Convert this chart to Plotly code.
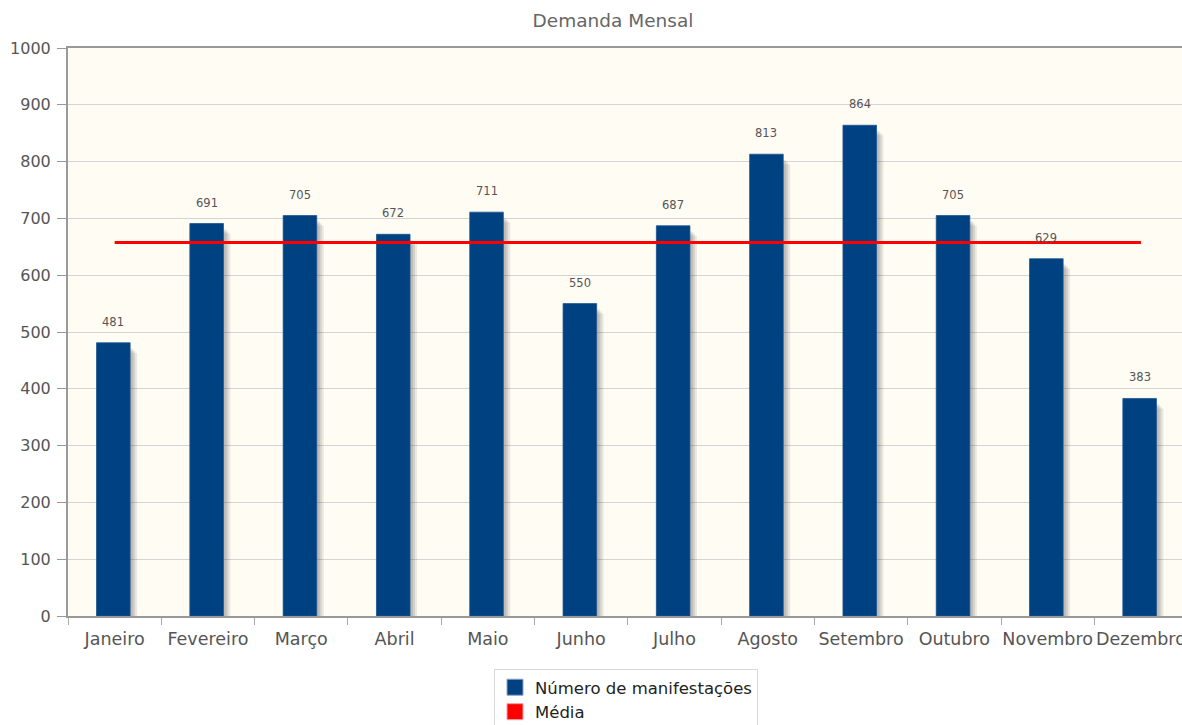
import plotly.graph_objects as go

months = ["Janeiro", "Fevereiro", "Março", "Abril", "Maio", "Junho", "Julho",
          "Agosto", "Setembro", "Outubro", "Novembro", "Dezembro"]
values = [481, 691, 705, 672, 711, 550, 687, 813, 864, 705, 629, 383]
y_ticks = [0, 100, 200, 300, 400, 500, 600, 700, 800, 900, 1000]

mean_val = sum(values) / len(values)
idx = list(range(len(months)))

FONT = "DejaVu Sans, Verdana, sans-serif"
BAR_W = 0.36
CAT_PX = 93.3
PLOT_W = 1114
PLOT_H = 568
px = 1.0 / CAT_PX          # one pixel in category units
ypx = 1000.0 / PLOT_H      # one pixel in value units

fig = go.Figure()

# drop shadow layers
for extra, alpha, drop in [(7, 0.10, 10), (5, 0.12, 8), (3, 0.14, 6)]:
    fig.add_trace(go.Bar(
        x=idx, y=[v - drop * ypx for v in values],
        width=BAR_W + extra * px, offset=-BAR_W / 2 - 1.3 * px,
        marker=dict(color=f"rgba(60,60,60,{alpha})", line=dict(width=0)),
        showlegend=False, hoverinfo="skip"))

fig.add_trace(go.Bar(
    x=idx, y=values, width=BAR_W, offset=-BAR_W / 2 - 1.3 * px,
    marker=dict(color="#004181", line=dict(width=0.8, color="#1d5590")),
    name="Número de manifestações", showlegend=False))

fig.add_trace(go.Scatter(
    x=[idx[0], idx[-1]], y=[mean_val, mean_val], mode="lines",
    line=dict(color="#ff0000", width=3), showlegend=False, hoverinfo="skip"))

# legend entries (square swatches)
fig.add_trace(go.Scatter(x=[None], y=[None], mode="markers",
                         name="Número de manifestações",
                         marker=dict(symbol="square", size=16, color="#004181",
                                     line=dict(color="#8aa3c0", width=1))))
fig.add_trace(go.Scatter(x=[None], y=[None], mode="markers", name="Média",
                         marker=dict(symbol="square", size=16, color="#ff0000",
                                     line=dict(color="#f0a0a0", width=1))))

for i, v in zip(idx, values):
    fig.add_annotation(x=i - 1.3 * px, y=v, text=str(v), showarrow=False,
                       yanchor="bottom", yshift=12,
                       font=dict(family=FONT, size=11.5, color="#555"))

fig.update_layout(
    width=1182, height=725,
    barmode="overlay",
    paper_bgcolor="white", plot_bgcolor="#fffcf4",
    margin=dict(l=68, r=0, t=48, b=109, autoexpand=False),
    font=dict(family=FONT, color="#555"),
    title=dict(text="Demanda Mensal", x=613 / 1182, xanchor="center",
               y=1 - 21 / 725, yanchor="middle",
               font=dict(family=FONT, size=18.5, color="#666")),
    legend=dict(orientation="v",
                x=(494 - 68) / PLOT_W, xanchor="left",
                y=-(669 - 616) / PLOT_H, yanchor="top",
                bgcolor="white", bordercolor="#d8d8d8", borderwidth=1,
                font=dict(family=FONT, size=16.5, color="#222"),
                tracegroupgap=0, itemsizing="trace"),
    showlegend=True,
)

fig.update_xaxes(
    tickmode="array", tickvals=idx, ticktext=months, tickangle=0,
    range=[-0.5, -0.5 + PLOT_W / CAT_PX],
    showline=True, linecolor="#999", linewidth=2, mirror=True,
    ticks="", showgrid=False, zeroline=False, ticklabelstandoff=6,
    ticklabeloverflow="allow",
    tickfont=dict(family=FONT, size=17.5, color="#555"),
)
fig.update_xaxes(minor=dict(tickmode="array",
                            tickvals=[i - 0.5 for i in idx] + [idx[-1] + 0.5],
                            ticks="outside", ticklen=7, tickcolor="#aaa",
                            tickwidth=1, showgrid=False))

fig.update_yaxes(
    range=[0, 1000], tickmode="array", tickvals=y_ticks,
    showline=True, linecolor="#999", linewidth=2, mirror=False,
    ticks="outside", ticklen=9, tickcolor="#999", tickwidth=1,
    showgrid=True, gridcolor="#d4d4d4", gridwidth=1, zeroline=False,
    ticklabelstandoff=3,
    tickfont=dict(family=FONT, size=16, color="#555"),
)

fig.write_html("out.html")
